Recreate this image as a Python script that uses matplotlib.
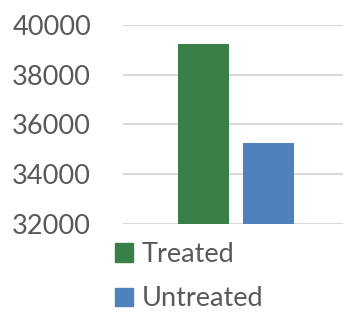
import matplotlib.pyplot as plt
from matplotlib.patches import Patch

labels = ["Treated", "Untreated"]
values = [39230, 35270]
colors = ["#3A7F47", "#4F81BD"]
yticks = [32000, 34000, 36000, 38000, 40000]

plt.rcParams['font.family'] = ['Lato', 'DejaVu Sans']

fig = plt.figure(figsize=(3.43, 3.13), dpi=100)
ax = fig.add_axes([123 / 343, 1 - 224.3 / 313, 220 / 343, 199.6 / 313])

width = 0.232
gap = 0.064
offsets = [-(width + gap) / 2, (width + gap) / 2]
for off, v, c in zip(offsets, values, colors):
    ax.bar(off, v - yticks[0], bottom=yticks[0], width=width, color=c, zorder=3)

ax.set_ylim(yticks[0], yticks[-1])
ax.set_xlim(-0.515, 0.485)
ax.set_yticks(yticks)
ax.set_xticks([])
ax.grid(axis='y', color='#D9D9D9', linewidth=1.5, zorder=0)
for s in ax.spines.values():
    s.set_visible(False)
ax.tick_params(axis='y', length=0, pad=23, labelsize=19.5, labelcolor='#595959')

handles = [Patch(color=c) for c in colors]
fig.legend(handles, labels, loc='upper left', bbox_to_anchor=(115 / 343, 1 - 242 / 313),
           frameon=False, fontsize=19.5, labelcolor='#595959', borderpad=0,
           borderaxespad=0, handlelength=0.67, handleheight=0.67,
           handletextpad=0.33, labelspacing=0.72)

fig.savefig("out.png", dpi=100)
